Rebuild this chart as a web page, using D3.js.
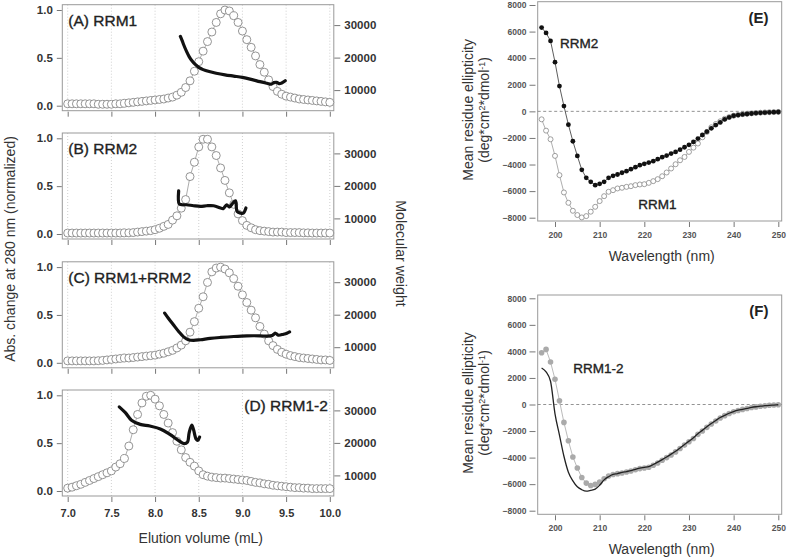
<!DOCTYPE html>
<html><head><meta charset="utf-8">
<script src="https://cdn.jsdelivr.net/npm/d3@7"></script>
<style>body{margin:0;background:#fff}svg{display:block}</style>
</head><body><svg id="chart" width="787" height="560"></svg>
<script>
// ---------------- DATA ----------------
const elutionVolume = [7.00,7.05,7.10,7.15,7.20,7.25,7.30,7.35,7.40,7.45,7.50,7.55,7.60,7.65,7.70,7.75,7.80,7.85,7.90,7.95,
  8.00,8.05,8.10,8.15,8.20,8.25,8.30,8.35,8.40,8.45,8.50,8.55,8.60,8.65,8.70,8.75,8.80,8.85,8.90,8.95,
  9.00,9.05,9.10,9.15,9.20,9.25,9.30,9.35,9.40,9.45,9.50,9.55,9.60,9.65,9.70,9.75,9.80,9.85,9.90,9.95,10.00];
const absA = [0.02,0.02,0.02,0.02,0.02,0.02,0.02,0.015,0.015,0.015,0.015,0.02,0.02,0.025,0.03,0.035,0.04,0.045,0.05,0.055,
  0.06,0.065,0.07,0.08,0.09,0.11,0.14,0.19,0.26,0.36,0.46,0.57,0.67,0.77,0.87,0.96,1.00,0.99,0.94,0.87,
  0.78,0.69,0.61,0.52,0.43,0.35,0.27,0.20,0.15,0.12,0.10,0.09,0.08,0.07,0.065,0.06,0.055,0.05,0.045,0.04,0.035];
const absB = [0.01,0.01,0.01,0.01,0.01,0.01,0.01,0.01,0.01,0.01,0.01,0.01,0.01,0.012,0.012,0.015,0.02,0.025,0.03,0.035,
  0.045,0.06,0.08,0.10,0.145,0.19,0.27,0.36,0.60,0.75,0.91,0.99,0.99,0.91,0.82,0.69,0.56,0.43,0.31,0.21,
  0.14,0.09,0.065,0.045,0.035,0.03,0.025,0.02,0.02,0.02,0.015,0.015,0.015,0.015,0.012,0.012,0.01,0.01,0.01,0.01,0.01];
const absC = [0.02,0.02,0.02,0.02,0.02,0.02,0.02,0.022,0.025,0.03,0.035,0.04,0.045,0.05,0.05,0.055,0.06,0.065,0.07,0.075,
  0.08,0.09,0.10,0.115,0.13,0.155,0.185,0.23,0.32,0.43,0.57,0.69,0.84,0.95,0.99,1.00,0.98,0.94,0.88,0.80,
  0.71,0.63,0.55,0.47,0.38,0.30,0.23,0.18,0.14,0.11,0.09,0.075,0.065,0.055,0.05,0.045,0.04,0.035,0.03,0.03,0.025];
const absD = [0.03,0.04,0.055,0.07,0.09,0.11,0.13,0.15,0.17,0.19,0.21,0.25,0.285,0.34,0.47,0.64,0.80,0.92,0.99,1.00,
  0.96,0.89,0.80,0.71,0.61,0.52,0.43,0.35,0.30,0.26,0.21,0.17,0.155,0.145,0.14,0.135,0.135,0.13,0.125,0.12,
  0.115,0.11,0.10,0.09,0.085,0.075,0.07,0.06,0.055,0.05,0.045,0.04,0.035,0.035,0.03,0.03,0.025,0.025,0.025,0.025,0.025];

const mwVolA = [8.29,8.31,8.33,8.36,8.39,8.42,8.46,8.50,8.55,8.62,8.70,8.80,8.90,9.00,9.10,9.20,9.28,9.33,9.36,9.39,9.42,9.45,9.49];
const mwA    = [26500,25200,23800,21900,20300,19100,17900,17000,16300,15700,15200,14700,14300,13900,13300,12600,12100,11800,12300,12400,12000,12200,12900];
const mwVolB = [8.270,8.276,8.31,8.36,8.44,8.52,8.59,8.67,8.75,8.78,8.82,8.85,8.89,8.92,8.94,8.98,9.01,9.04];
const mwB    = [18500,14500,14200,14200,13900,13700,13900,13900,13200,13000,14200,13500,14700,15400,12100,11600,11600,13200];
const mwVolC = [8.11,8.15,8.21,8.27,8.33,8.38,8.44,8.52,8.63,8.75,8.90,9.05,9.20,9.28,9.34,9.38,9.41,9.47,9.51,9.54];
const mwC    = [20500,19000,16900,14850,13100,12300,12100,12300,12700,13000,13300,13500,13500,13400,13600,14300,13700,14000,14300,14700];
const mwVolD = [7.59,7.66,7.73,7.83,7.94,8.06,8.17,8.27,8.33,8.37,8.39,8.42,8.44,8.47,8.49,8.51];
const mwD    = [31100,29300,27000,25700,25200,24300,22600,20700,19800,20200,23100,25500,24100,21200,20800,21800];

const panelLabels = ["(A) RRM1","(B) RRM2","(C) RRM1+RRM2","(D) RRM1-2"];
const volTicks = [7.0,7.5,8.0,8.5,9.0,9.5,10.0];
const absTicks = [0.0,0.5,1.0];
const mwTicks = [10000,20000,30000];

const wavelength = [197,198,199,200,201,202,203,204,205,206,207,208,209,210,211,212,213,214,215,216,217,218,219,220,
  221,222,223,224,225,226,227,228,229,230,231,232,233,234,235,236,237,238,239,240,241,242,243,244,245,246,247,248,249,250];
const rrm2E = [6300,5900,5300,3700,1900,400,-1000,-2250,-3350,-4400,-5000,-5300,-5550,-5450,-5300,-5000,-4850,-4750,-4620,-4500,
  -4350,-4200,-4050,-3950,-3850,-3750,-3600,-3450,-3330,-3180,-3050,-2880,-2700,-2520,-2300,-2050,-1780,-1530,-1280,-1030,
  -830,-600,-450,-330,-280,-230,-200,-160,-130,-110,-90,-75,-60,-50];
const rrm1E = [-600,-1450,-2100,-3350,-4800,-6100,-6880,-7480,-7800,-7980,-7880,-7550,-7180,-6750,-6380,-6050,-5930,-5800,-5750,-5680,
  -5630,-5550,-5500,-5480,-5380,-5250,-5100,-4880,-4600,-4300,-3980,-3680,-3430,-3050,-2730,-2420,-1950,-1550,-1200,-950,
  -750,-560,-430,-330,-260,-210,-180,-150,-120,-100,-80,-65,-55,-45];
const rrm12F = [3900,4150,3200,1900,280,-1350,-2730,-3950,-4780,-5500,-5920,-6100,-6020,-5850,-5590,-5390,-5270,-5210,-5160,-5080,
  -5010,-4910,-4830,-4780,-4730,-4580,-4410,-4200,-4000,-3800,-3570,-3320,-3060,-2810,-2560,-2250,-2000,-1720,-1470,-1240,
  -1020,-840,-680,-550,-450,-370,-300,-230,-180,-130,-100,-60,-40,-20];
const rrm12LineF = [2750,2450,1750,-700,-2300,-3900,-5100,-5750,-6200,-6420,-6530,-6470,-6380,-6080,-5680,-5440,-5270,-5200,-5120,-5050,
  -4980,-4880,-4800,-4740,-4680,-4520,-4340,-4150,-3950,-3740,-3520,-3270,-3010,-2760,-2500,-2200,-1950,-1680,-1430,-1200,
  -980,-820,-660,-530,-430,-360,-290,-220,-170,-130,-90,-60,-40,-20];
const wlTicks = [200,210,220,230,240,250];
const cdTicks = [-8000,-6000,-4000,-2000,0,2000,4000,6000,8000];

// ---------------- DRAW ----------------
const FONT = "'Liberation Sans', Arial, Helvetica, sans-serif";
const svg = d3.select("#chart").style("font-family", FONT);
function styleAxis(a, size, color) {
  a.select(".domain").remove();
  a.selectAll("line").attr("stroke", "#777").attr("stroke-width", 1);
  a.selectAll("text").attr("fill", color).style("font-size", size + "px")
    .style("font-weight", "bold").style("font-family", FONT);
}
function semiBold(t, color) {
  return t.attr("fill", color).attr("stroke", color).attr("stroke-width", 0.35);
}

// Left SEC panels
const xV = d3.scaleLinear().domain([7, 10]).range([67.7, 329.8]);
const boxL = 62.3, boxR = 333.8, boxH = 106;
const tops = [4.7, 133, 261.8, 390];
const absSeries = [absA, absB, absC, absD];
const mwVols = [mwVolA, mwVolB, mwVolC, mwVolD];
const mwSeries = [mwA, mwB, mwC, mwD];

tops.forEach((T, i) => {
  const g = svg.append("g");
  const yL = d3.scaleLinear().domain([0, 1]).range([T + 101, T + 5.3]);
  const yR = d3.scaleLinear().domain([10000, 30000]).range([T + 85.4, T + 20.4]);
  g.selectAll("line.grid").data(volTicks).join("line").attr("class", "grid")
    .attr("x1", d => xV(d)).attr("x2", d => xV(d)).attr("y1", T).attr("y2", T + boxH)
    .attr("stroke", "#c4c4c4").attr("stroke-width", 0.8).attr("stroke-dasharray", "1,2");
  g.append("rect").attr("x", boxL).attr("y", T).attr("width", boxR - boxL).attr("height", boxH)
    .attr("fill", "none").attr("stroke", "#999").attr("stroke-width", 1);
  const aL = g.append("g").attr("transform", `translate(${boxL - 0.5},0)`)
    .call(d3.axisLeft(yL).tickValues(absTicks).tickFormat(d3.format(".1f")).tickSize(5).tickPadding(4));
  const aR = g.append("g").attr("transform", `translate(${boxR + 0.5},0)`)
    .call(d3.axisRight(yR).tickValues(mwTicks).tickFormat(d3.format("d")).tickSize(6).tickPadding(4));
  const aB = g.append("g").attr("transform", `translate(0,${T + boxH + 1})`)
    .call(d3.axisBottom(xV).tickValues(volTicks).tickFormat(i === 3 ? d3.format(".1f") : () => "").tickSize(5).tickPadding(7));
  styleAxis(aL, 11.5, "#333"); styleAxis(aR, 11.5, "#333"); styleAxis(aB, 11, "#333");

  const pts = elutionVolume.map((v, k) => [v, absSeries[i][k]]);
  g.append("path").datum(pts)
    .attr("d", d3.line().x(d => xV(d[0])).y(d => yL(d[1])))
    .attr("fill", "none").attr("stroke", "#888").attr("stroke-width", 0.7);
  g.selectAll("circle").data(pts).join("circle")
    .attr("cx", d => xV(d[0])).attr("cy", d => yL(d[1])).attr("r", 4)
    .attr("fill", "#fff").attr("stroke", "#7a7a7a").attr("stroke-width", 0.8);

  const mp = mwVols[i].map((v, k) => [v, mwSeries[i][k]]);
  g.append("path").datum(mp)
    .attr("d", d3.line().curve(d3.curveCatmullRom.alpha(0.5)).x(d => xV(d[0])).y(d => yR(d[1])))
    .attr("fill", "none").attr("stroke", "#111").attr("stroke-width", 3.2)
    .attr("stroke-linejoin", "round").attr("stroke-linecap", "round");

  const right = i === 3;
  semiBold(g.append("text").attr("x", right ? boxR - 6 : boxL + 6).attr("y", T + 21)
    .attr("text-anchor", right ? "end" : "start")
    .style("font-size", "15.5px"), "#222")
    .text(panelLabels[i]);
});

svg.append("text").attr("transform", "translate(14.5,249) rotate(-90)").attr("text-anchor", "middle")
  .style("font-size", "14px").attr("fill", "#333")
  .text("Abs. change at 280 nm (normalized)");
svg.append("text").attr("transform", "translate(396,253.5) rotate(90)").attr("text-anchor", "middle")
  .style("font-size", "14.2px").attr("fill", "#333")
  .text("Molecular weight");
svg.append("text").attr("x", 200.8).attr("y", 542.5).attr("text-anchor", "middle")
  .style("font-size", "14px").attr("fill", "#333")
  .text("Elution volume (mL)");

// Right CD panels
const xW = d3.scaleLinear().domain([200, 250]).range([555, 778.3]);
const frameL = 537.7, frameR = 781.7;
function cdPanel(top, bottom, yTop8000, yBot8000, tag) {
  const g = svg.append("g");
  const y = d3.scaleLinear().domain([-8000, 8000]).range([yBot8000, yTop8000]);
  g.append("rect").attr("x", frameL).attr("y", top).attr("width", frameR - frameL).attr("height", bottom - top)
    .attr("fill", "none").attr("stroke", "#999").attr("stroke-width", 1);
  g.append("line").attr("x1", frameL).attr("x2", frameR).attr("y1", y(0)).attr("y2", y(0))
    .attr("stroke", "#777").attr("stroke-width", 0.8).attr("stroke-dasharray", "3,2.5");
  const aL = g.append("g").attr("transform", `translate(535.5,0)`)
    .call(d3.axisLeft(y).tickValues(cdTicks).tickFormat(d3.format("d")).tickSize(6).tickPadding(3));
  const aB = g.append("g").attr("transform", `translate(0,${bottom + 1})`)
    .call(d3.axisBottom(xW).tickValues(wlTicks).tickFormat(d3.format("d")).tickSize(5).tickPadding(5));
  styleAxis(aL, 8.5, "#555"); styleAxis(aB, 8.5, "#555");
  g.append("text").attr("x", 768.5).attr("y", top + 21).attr("text-anchor", "end")
    .style("font-size", "15px").style("font-weight", "bold").attr("fill", "#222").text(tag);
  g.append("text").attr("x", 661.7).attr("y", bottom + 40).attr("text-anchor", "middle")
    .style("font-size", "14px").attr("fill", "#333").text("Wavelength (nm)");
  const cy = y(0) - 1.5;
  g.append("text").attr("transform", `translate(473,${cy}) rotate(-90)`).attr("text-anchor", "middle")
    .style("font-size", "14px").attr("fill", "#333").text("Mean residue ellipticity");
  const t2 = g.append("text").attr("transform", `translate(489,${cy}) rotate(-90)`).attr("text-anchor", "middle")
    .style("font-size", "14px").attr("fill", "#333");
  t2.append("tspan").text("(deg*cm");
  t2.append("tspan").attr("dy", -4.5).style("font-size", "9px").text("2");
  t2.append("tspan").attr("dy", 4.5).text("*dmol");
  t2.append("tspan").attr("dy", -4.5).style("font-size", "9px").text("-1");
  t2.append("tspan").attr("dy", 4.5).text(")");
  return { g, y };
}

// Panel E
const E = cdPanel(1.7, 221, 5, 217.7, "(E)");
const e1 = wavelength.map((w, k) => [w, rrm1E[k]]);
const e2 = wavelength.map((w, k) => [w, rrm2E[k]]);
E.g.append("path").datum(e1).attr("d", d3.line().x(d => xW(d[0])).y(d => E.y(d[1])))
  .attr("fill", "none").attr("stroke", "#999").attr("stroke-width", 0.8);
E.g.selectAll("circle.r1").data(e1).join("circle").attr("class", "r1")
  .attr("cx", d => xW(d[0])).attr("cy", d => E.y(d[1])).attr("r", 2.5)
  .attr("fill", "#fff").attr("stroke", "#888").attr("stroke-width", 0.8);
E.g.append("path").datum(e2).attr("d", d3.line().x(d => xW(d[0])).y(d => E.y(d[1])))
  .attr("fill", "none").attr("stroke", "#333").attr("stroke-width", 0.8);
E.g.selectAll("circle.r2").data(e2).join("circle").attr("class", "r2")
  .attr("cx", d => xW(d[0])).attr("cy", d => E.y(d[1])).attr("r", 2.4).attr("fill", "#111");
semiBold(E.g.append("text").attr("x", 560).attr("y", 48.3).style("font-size", "13.5px"), "#222").text("RRM2");
semiBold(E.g.append("text").attr("x", 638.3).attr("y", 209.3).style("font-size", "13.5px"), "#222").text("RRM1");

// Panel F
const F = cdPanel(295, 514.3, 298.3, 510.7, "(F)");
const f1 = wavelength.map((w, k) => [w, rrm12F[k]]);
const f2 = wavelength.map((w, k) => [w, rrm12LineF[k]]);
F.g.append("path").datum(f1).attr("d", d3.line().x(d => xW(d[0])).y(d => F.y(d[1])))
  .attr("fill", "none").attr("stroke", "#bbb").attr("stroke-width", 1);
F.g.selectAll("circle.p").data(f1).join("circle").attr("class", "p")
  .attr("cx", d => xW(d[0])).attr("cy", d => F.y(d[1])).attr("r", 2.8).attr("fill", "#aaa");
F.g.append("path").datum(f2).attr("d", d3.line().curve(d3.curveMonotoneX).x(d => xW(d[0])).y(d => F.y(d[1])))
  .attr("fill", "none").attr("stroke", "#222").attr("stroke-width", 1.3);
semiBold(F.g.append("text").attr("x", 573.3).attr("y", 373.3).style("font-size", "13.5px"), "#222").text("RRM1-2");
</script>
</body></html>
